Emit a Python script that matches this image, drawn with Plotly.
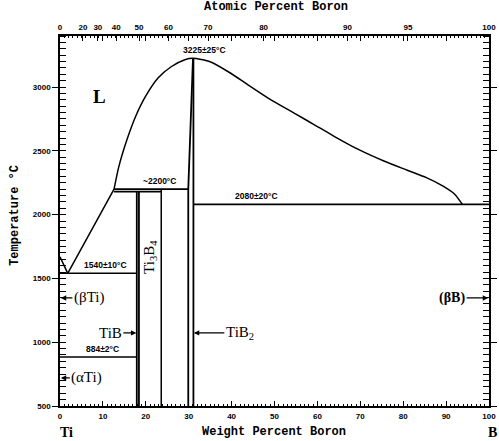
import plotly.graph_objects as go

# ---- data ----
wt_ticks = list(range(0, 101, 10))
temp_ticks = list(range(500, 3001, 500))
atomic_labels = [0, 20, 30, 40, 50, 60, 70, 80, 90, 95, 100]

liq_lower_wt = [0, 1.8, 12.6]
liq_lower_T = [1670, 1540, 2200]

liq_upper_wt = [12.6, 13.7, 15.6, 17.6, 19.9, 22.9, 25.9, 29.1, 31.0, 35.0, 39.6,
                43.5, 48.7, 54.9, 59.5, 64.1, 69.3, 75.5, 80.8, 85.4, 89.2, 92.0, 93.8]
liq_upper_T = [2200, 2374, 2586, 2767, 2924, 3072, 3159, 3214, 3225, 3198, 3112,
               3025, 2910, 2790, 2700, 2610, 2515, 2420, 2350, 2290, 2225, 2160, 2080]

eut_1540_wt = [0, 17.9]
eut_1540_T = [1540, 1540]
eut_884_wt = [0, 17.9]
eut_884_T = [884, 884]
per_2200_wt = [12.6, 29.9]
per_2200_T = [2200, 2200]
per_2180_wt = [12.6, 23.6]
per_2180_T = [2180, 2180]
eut_2080_wt = [31.0, 100]
eut_2080_T = [2080, 2080]

tib_left_wt = [17.9, 17.9]
tib_right_wt = [18.4, 18.4]
tib_T = [500, 2180]
ti3b4_wt = [23.6, 23.6]
ti3b4_T = [500, 2200]
tib2_left_wt = [29.9, 29.9, 31.0]
tib2_left_T = [500, 2200, 3225]
tib2_right_wt = [31.1, 31.1]
tib2_right_T = [500, 3225]

M_TI, M_B = 47.867, 10.81


def at_to_wt(a):
    return 100 * a * M_B / (a * M_B + (100 - a) * M_TI)


fig = go.Figure()


def seg(x, y, w=1.5, shape='linear', smoothing=None):
    line = dict(color='black', width=w, shape=shape)
    if smoothing is not None:
        line['smoothing'] = smoothing
    fig.add_trace(go.Scatter(x=x, y=y, mode='lines', line=line,
                             hoverinfo='skip', showlegend=False))


seg(liq_lower_wt, liq_lower_T)
seg(liq_upper_wt, liq_upper_T, shape='spline', smoothing=0.6)
seg(eut_1540_wt, eut_1540_T)
seg(eut_884_wt, eut_884_T)
seg(per_2200_wt, per_2200_T, w=1.8)
seg(per_2180_wt, per_2180_T, w=1.8)
seg(eut_2080_wt, eut_2080_T, w=1.8)
seg(tib_left_wt, tib_T, w=1.8)
seg(tib_right_wt, tib_T, w=1.8)
seg(ti3b4_wt, ti3b4_T)
seg(tib2_left_wt, tib2_left_T, w=1.8)
seg(tib2_right_wt, tib2_right_T, w=1.8)

# invisible trace to bind the top (atomic) axis
fig.add_trace(go.Scatter(x=[0, 100], y=[500, 500], xaxis='x2', mode='lines',
                         line=dict(width=0), hoverinfo='skip', showlegend=False))

tickfont = dict(family='Liberation Sans', size=8, color='black', weight='bold')
labfont = dict(family='Liberation Sans', size=8.5, color='black', weight='bold')
serif = dict(family='Liberation Serif', size=15, color='black')
mono = dict(family='Liberation Mono', size=12, color='black', weight='bold')

top_vals = [at_to_wt(a) for a in atomic_labels]

fig.update_layout(
    width=499, height=441,
    margin=dict(l=60, r=2, t=36, b=35),
    paper_bgcolor='white', plot_bgcolor='white',
    showlegend=False,
    xaxis=dict(range=[0, 100], tickvals=wt_ticks, ticktext=[str(v) for v in wt_ticks],
               showgrid=False, zeroline=False, showline=True, linecolor='black',
               linewidth=1.5, mirror='allticks', ticks='inside', ticklen=5,
               tickcolor='black', tickwidth=1.2, tickfont=tickfont, ticklabelstandoff=2,
               minor=dict(dtick=1, ticks='inside', ticklen=2.5, tickcolor='black',
                          tickwidth=0.8)),
    xaxis2=dict(range=[0, 100], overlaying='x', side='top', anchor='y',
                tickmode='array', tickvals=top_vals,
                ticktext=[str(a) for a in atomic_labels],
                showgrid=False, zeroline=False, showline=False,
                ticks='inside', ticklen=5, tickcolor='black', tickwidth=1.2,
                tickfont=tickfont, ticklabelstandoff=3),
    yaxis=dict(range=[500, 3400], tickvals=temp_ticks,
               ticktext=[str(v) for v in temp_ticks],
               showgrid=False, zeroline=False, showline=True, linecolor='black',
               linewidth=1.5, mirror='allticks', ticks='outside', ticklen=6,
               tickcolor='black', tickwidth=1.2, tickfont=tickfont,
               minor=dict(dtick=50, ticks='inside', ticklen=2.5, tickcolor='black',
                          tickwidth=0.8)),
)

ann = []


def txt(x, y, s, font, **kw):
    d = dict(x=x, y=y, text=s, showarrow=False, font=font,
             xanchor='center', yanchor='middle')
    d.update(kw)
    ann.append(d)


def arrow(x, y, s, ax, font):
    ann.append(dict(x=x, y=y, text=s, showarrow=True, ax=ax, ay=0,
                    arrowhead=2, arrowsize=0.9, arrowwidth=1.2, arrowcolor='black',
                    font=font, xref='x', yref='y'))


txt(9.2, 2924, '<b>L</b>', dict(family='Liberation Serif', size=19, color='black'))
txt(33.6, 3236, '3225±25°C', labfont, yanchor='bottom')
txt(23.3, 2210, '~2200°C', labfont, yanchor='bottom')
txt(10.7, 1550, '1540±10°C', labfont, yanchor='bottom')
txt(45.8, 2090, '2080±20°C', labfont, yanchor='bottom')
txt(10.0, 893, '884±2°C', labfont, yanchor='bottom')
txt(21.1, 1665, 'Ti<sub>3</sub>B<sub>4</sub>', serif, textangle=-90)

arrow(0.2, 1347, '(βTi)', 28, serif)
arrow(0.2, 720, '(αTi)', 26, serif)
arrow(17.8, 1073, 'TiB', -26, serif)
arrow(31.2, 1073, 'TiB<sub>2</sub>', 46, serif)
arrow(99.8, 1347, '(βB)', -36, dict(family='Liberation Serif', size=14, color='black', weight='bold'))


# axis titles and end labels (paper coordinates)
def px_x(p):
    return (p - 60) / 437


def px_y(p):
    return (406 - p) / 370


txt(px_x(280), px_y(7), 'Atomic Percent Boron', mono, xref='paper', yref='paper')
txt(px_x(278), px_y(432), 'Weight Percent Boron', mono, xref='paper', yref='paper')
txt(px_x(14), px_y(215), 'Temperature °C', mono, xref='paper', yref='paper', textangle=-90)
txt(px_x(67), px_y(432), '<b>Ti</b>', dict(family='Liberation Serif', size=14, color='black'),
    xref='paper', yref='paper')
txt(px_x(501), px_y(432), '<b>B</b>', dict(family='Liberation Serif', size=14, color='black'),
    xref='paper', yref='paper')

fig.update_layout(annotations=ann)
fig.write_html('out.html')
